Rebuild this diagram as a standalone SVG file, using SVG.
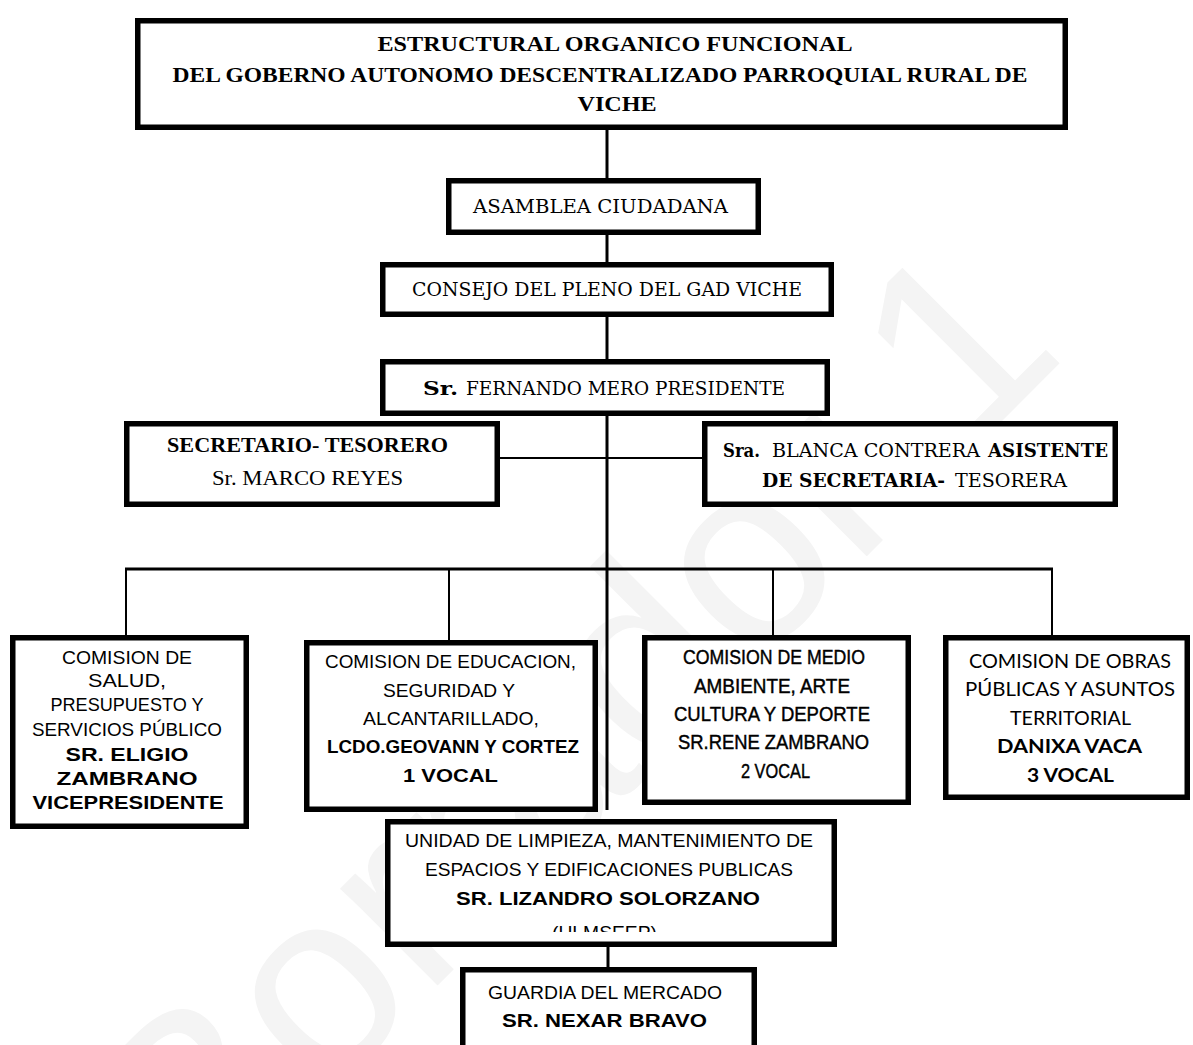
<svg xmlns="http://www.w3.org/2000/svg" width="1193" height="1045" viewBox="0 0 1193 1045">
<style>
.box{fill:#fff;stroke:#000;stroke-width:5.5}
.ln{stroke:#000;fill:none}
.t{fill:#000;text-anchor:middle}
.s{text-anchor:start}
.slab{font-family:"DejaVu Serif","Liberation Serif",serif;font-size:19px}
.times{font-family:"Liberation Serif","Times New Roman",serif;font-size:20px}
.title{font-family:"Liberation Serif","Times New Roman",serif;font-size:21px;font-weight:bold}
.sans{font-family:"Liberation Sans",Arial,sans-serif;font-size:19px}
.semi{font-family:"Liberation Sans",Arial,sans-serif;font-size:21px;stroke:#000;stroke-width:0.45}
.cal{font-family:Lato,"Liberation Sans",sans-serif;font-size:19px}
.b{font-weight:bold}
.wm{font-family:"Liberation Sans",Arial,sans-serif;font-size:260px;fill:#f4f4f4}
</style>
<defs>
<clipPath id="clipAcr"><rect x="540" y="915" width="130" height="17"/></clipPath>
</defs>
<rect width="1193" height="1045" fill="#fff"/>
<text class="wm" x="200" y="1223" transform="rotate(-45 200 1223)">Borrador 1</text>

<g id="connectors">
<line class="ln" x1="607" y1="130" x2="607" y2="178" stroke-width="3"/>
<line class="ln" x1="607" y1="235" x2="607" y2="262" stroke-width="3"/>
<line class="ln" x1="607" y1="317" x2="607" y2="359" stroke-width="3"/>
<line class="ln" x1="607" y1="416" x2="607" y2="810" stroke-width="3"/>
<line class="ln" x1="500" y1="458" x2="702" y2="458" stroke-width="2"/>
<line class="ln" x1="125" y1="569" x2="1053" y2="569" stroke-width="3"/>
<line class="ln" x1="126" y1="569" x2="126" y2="635" stroke-width="2"/>
<line class="ln" x1="449" y1="569" x2="449" y2="640" stroke-width="2"/>
<line class="ln" x1="773" y1="569" x2="773" y2="635" stroke-width="2"/>
<line class="ln" x1="1052" y1="569" x2="1052" y2="635" stroke-width="2"/>
<line class="ln" x1="608" y1="947" x2="608" y2="967" stroke-width="3"/>
</g>

<g id="title">
<rect class="box" x="137.75" y="20.75" width="927.5" height="106.5"/>
<text class="t title" x="615" y="51" textLength="475" lengthAdjust="spacingAndGlyphs">ESTRUCTURAL  ORGANICO FUNCIONAL</text>
<text class="t title" x="600" y="82" textLength="855" lengthAdjust="spacingAndGlyphs">DEL GOBERNO AUTONOMO DESCENTRALIZADO PARROQUIAL RURAL DE</text>
<text class="t title" x="617" y="111" textLength="79" lengthAdjust="spacingAndGlyphs">VICHE</text>
</g>

<g id="asamblea">
<rect class="box" x="448.75" y="180.75" width="309.5" height="51.5"/>
<text class="t slab" x="600.5" y="213" textLength="255" lengthAdjust="spacingAndGlyphs">ASAMBLEA CIUDADANA</text>
</g>

<g id="consejo">
<rect class="box" x="382.75" y="264.75" width="448.5" height="49.5"/>
<text class="t slab" x="607" y="296" textLength="390" lengthAdjust="spacingAndGlyphs">CONSEJO DEL PLENO DEL GAD VICHE</text>
</g>

<g id="presidente">
<rect class="box" x="382.75" y="361.75" width="444.5" height="51.5"/>
<text class="t s slab b" x="423" y="395" textLength="35" lengthAdjust="spacingAndGlyphs">Sr.</text>
<text class="t s slab" x="466" y="395" textLength="319" lengthAdjust="spacingAndGlyphs">FERNANDO MERO PRESIDENTE</text>
</g>

<g id="secretario">
<rect class="box" x="126.75" y="423.75" width="370.5" height="80.5"/>
<text class="t times b" x="307.5" y="452" textLength="281" lengthAdjust="spacingAndGlyphs">SECRETARIO- TESORERO</text>
<text class="t times" x="307.5" y="485" textLength="191" lengthAdjust="spacingAndGlyphs">Sr. MARCO REYES</text>
</g>

<g id="asistente">
<rect class="box" x="704.75" y="423.75" width="410.5" height="80.5"/>
<text class="t s slab b" x="723" y="457" textLength="37" lengthAdjust="spacingAndGlyphs">Sra.</text>
<text class="t s slab" x="772" y="457" textLength="208" lengthAdjust="spacingAndGlyphs">BLANCA CONTRERA</text>
<text class="t s slab b" x="988" y="457" textLength="120" lengthAdjust="spacingAndGlyphs">ASISTENTE</text>
<text class="t s slab b" x="762" y="487" textLength="183" lengthAdjust="spacingAndGlyphs">DE SECRETARIA-</text>
<text class="t s slab" x="955" y="487" textLength="112" lengthAdjust="spacingAndGlyphs">TESORERA</text>
</g>

<g id="salud">
<rect class="box" x="12.75" y="637.75" width="233.5" height="188.5"/>
<text class="t sans" x="127" y="664" textLength="130" lengthAdjust="spacingAndGlyphs">COMISION DE</text>
<text class="t sans" x="127" y="687" textLength="78" lengthAdjust="spacingAndGlyphs">SALUD,</text>
<text class="t sans" x="127" y="711" textLength="153" lengthAdjust="spacingAndGlyphs">PRESUPUESTO Y</text>
<text class="t sans" x="127" y="736" textLength="190" lengthAdjust="spacingAndGlyphs">SERVICIOS PÚBLICO</text>
<text class="t sans b" x="127" y="761" textLength="123" lengthAdjust="spacingAndGlyphs">SR. ELIGIO</text>
<text class="t sans b" x="127" y="785" textLength="141" lengthAdjust="spacingAndGlyphs">ZAMBRANO</text>
<text class="t sans b" x="128" y="809" textLength="191" lengthAdjust="spacingAndGlyphs">VICEPRESIDENTE</text>
</g>

<g id="educacion">
<rect class="box" x="306.75" y="642.75" width="288.5" height="166.5"/>
<text class="t sans" x="450.5" y="668" textLength="251" lengthAdjust="spacingAndGlyphs">COMISION DE EDUCACION,</text>
<text class="t sans" x="449" y="697" textLength="132" lengthAdjust="spacingAndGlyphs">SEGURIDAD Y</text>
<text class="t sans" x="451" y="725" textLength="176" lengthAdjust="spacingAndGlyphs">ALCANTARILLADO,</text>
<text class="t sans b" x="453" y="753" textLength="252" lengthAdjust="spacingAndGlyphs">LCDO.GEOVANN Y CORTEZ</text>
<text class="t sans b" x="450.5" y="782" textLength="95" lengthAdjust="spacingAndGlyphs">1 VOCAL</text>
</g>

<g id="medio">
<rect class="box" x="644.75" y="637.75" width="263.5" height="164.5"/>
<text class="t semi" x="774" y="664" textLength="182" lengthAdjust="spacingAndGlyphs">COMISION DE MEDIO</text>
<text class="t semi" x="772" y="693" textLength="156" lengthAdjust="spacingAndGlyphs">AMBIENTE, ARTE</text>
<text class="t semi" x="772" y="721" textLength="196" lengthAdjust="spacingAndGlyphs">CULTURA Y DEPORTE</text>
<text class="t semi" x="773.5" y="749" textLength="191" lengthAdjust="spacingAndGlyphs">SR.RENE ZAMBRANO</text>
<text class="t semi" x="775.5" y="778" textLength="69" lengthAdjust="spacingAndGlyphs">2 VOCAL</text>
</g>

<g id="obras">
<rect class="box" x="945.75" y="637.75" width="241.5" height="159.5"/>
<text class="t cal" x="1070" y="668" textLength="202" lengthAdjust="spacingAndGlyphs">COMISION DE OBRAS</text>
<text class="t cal" x="1070" y="696" textLength="210" lengthAdjust="spacingAndGlyphs">PÚBLICAS Y ASUNTOS</text>
<text class="t cal" x="1070.5" y="725" textLength="121" lengthAdjust="spacingAndGlyphs">TERRITORIAL</text>
<text class="t cal b" x="1069.5" y="753" textLength="145" lengthAdjust="spacingAndGlyphs">DANIXA VACA</text>
<text class="t cal b" x="1070.5" y="782" textLength="87" lengthAdjust="spacingAndGlyphs">3 VOCAL</text>
</g>

<g id="unidad">
<rect class="box" x="387.75" y="821.75" width="446.5" height="122.5"/>
<text class="t sans" x="609" y="847" textLength="408" lengthAdjust="spacingAndGlyphs">UNIDAD DE LIMPIEZA, MANTENIMIENTO DE</text>
<text class="t sans" x="609" y="876" textLength="368" lengthAdjust="spacingAndGlyphs">ESPACIOS Y EDIFICACIONES PUBLICAS</text>
<text class="t sans b" x="608" y="905" textLength="304" lengthAdjust="spacingAndGlyphs">SR. LIZANDRO SOLORZANO</text>
<text class="t sans" x="604.5" y="939" textLength="105" lengthAdjust="spacingAndGlyphs" clip-path="url(#clipAcr)">(ULMSEEP)</text>
</g>

<g id="guardia">
<rect class="box" x="462.75" y="969.75" width="291.5" height="100"/>
<text class="t sans" x="605" y="999" textLength="234" lengthAdjust="spacingAndGlyphs">GUARDIA DEL MERCADO</text>
<text class="t sans b" x="604.5" y="1027" textLength="205" lengthAdjust="spacingAndGlyphs">SR. NEXAR BRAVO</text>
</g>
</svg>
